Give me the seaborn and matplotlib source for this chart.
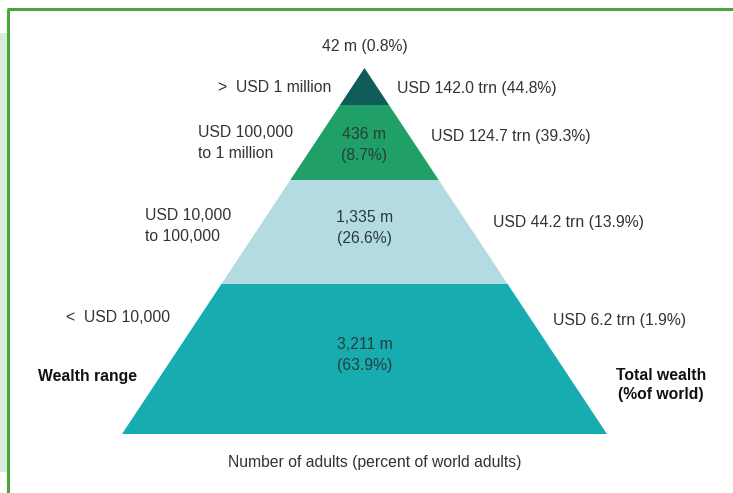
import matplotlib
matplotlib.use("Agg")
import matplotlib.pyplot as plt
import seaborn as sns
import pandas as pd

# ---------------- data ----------------
wealth_ranges = [">  USD 1 million", "USD 100,000\nto 1 million", "USD 10,000\nto 100,000", "<  USD 10,000"]
adults_m = ["42", "436", "1,335", "3,211"]
adults_pct = [0.8, 8.7, 26.6, 63.9]
wealth_trn = [142.0, 124.7, 44.2, 6.2]
wealth_pct = [44.8, 39.3, 13.9, 1.9]
tier_colors = ["#0f5c5b", "#20a066", "#b4dbe2", "#17acb0"]

# ---------------- layout (pixel-like units) ----------------
W, H = 733, 493
apex_x, apex_y = 364.5, 68
slope = 0.6625                      # half-width per unit of depth
tier_bounds = [68, 105, 180, 284, 434]
left_label_x = [331, 198, 145, 66]
left_label_y = [87, 143, 226, 318]
left_label_ha = ["right", "left", "left", "left"]
right_label_x = [397, 431, 493, 553]
right_label_y = [89, 137, 222, 320]
center_label_y = [47, 145, 228, 355]

sns.set_theme(style="white")
plt.rcParams["font.family"] = ["Liberation Sans", "DejaVu Sans"]

fig = plt.figure(figsize=(W / 100, H / 100), dpi=100)
ax = fig.add_axes([0, 0, 1, 1])
ax.set_xlim(0, W)
ax.set_ylim(H, 0)
ax.axis("off")

# frame decoration
ax.fill_between([0, 7], 33, 472, color="#d9ebda", lw=0, zorder=0)
ax.plot([8, 8], [9, H], color="#4aa63a", lw=2.2, solid_capstyle="butt")
ax.plot([7, W], [9, 9], color="#4aa63a", lw=2.2, solid_capstyle="butt")

df = pd.DataFrame({"range": wealth_ranges, "adults": adults_m, "apct": adults_pct,
                   "trn": wealth_trn, "wpct": wealth_pct, "color": tier_colors})

text_col = "#333333"
fs = 11.3
ls = 1.45
for i, row in df.iterrows():
    y0, y1 = tier_bounds[i], tier_bounds[i + 1]
    hw0, hw1 = (y0 - apex_y) * slope, (y1 - apex_y) * slope
    xs = [apex_x - hw0, apex_x + hw0, apex_x + hw1, apex_x - hw1]
    ys = [y0, y0, y1, y1]
    ax.fill(xs, ys, color=row["color"], lw=0, zorder=2)

    if i == 0:
        ax.text(apex_x, center_label_y[i], f"{row['adults']} m ({row['apct']:.1f}%)",
                ha="center", va="center", fontsize=fs, color=text_col)
    else:
        ax.text(apex_x, center_label_y[i], f"{row['adults']} m\n({row['apct']:.1f}%)",
                ha="center", va="center", fontsize=fs, color="#2b3b3b", linespacing=ls, zorder=3)

    ax.text(left_label_x[i], left_label_y[i], row["range"], ha=left_label_ha[i], va="center",
            fontsize=fs, color=text_col, linespacing=ls)
    ax.text(right_label_x[i], right_label_y[i], f"USD {row['trn']:.1f} trn ({row['wpct']:.1f}%)",
            ha="left", va="center", fontsize=fs, color=text_col)

ax.text(38, 376, "Wealth range", ha="left", va="center", fontsize=fs, fontweight="bold", color="#111111")
ax.text(661, 385, "Total wealth\n(%of world)", ha="center", va="center", fontsize=fs,
        fontweight="bold", color="#111111", linespacing=1.35)
ax.text(375, 462, "Number of adults (percent of world adults)", ha="center", va="center",
        fontsize=fs, color=text_col)

fig.savefig("out.png", dpi=100)
